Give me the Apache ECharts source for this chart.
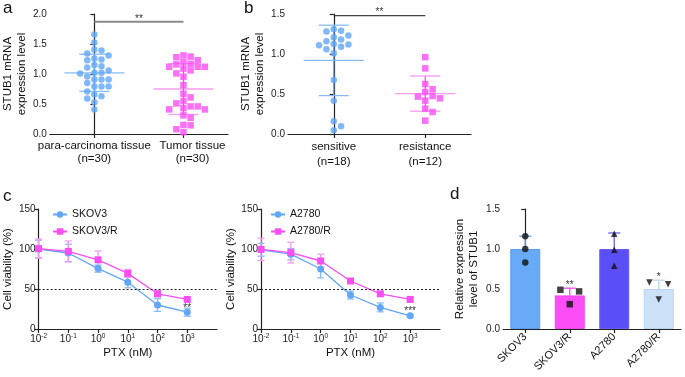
<!DOCTYPE html>
<html>
<head>
<meta charset="utf-8">
<script src="https://cdn.jsdelivr.net/npm/echarts@6.0.0/dist/echarts.min.js"></script>
<style>
  html, body { margin: 0; padding: 0; background: #fff; }
  #fig { width: 685px; height: 377px; }
</style>
</head>
<body>
<div id="fig"></div>
<script>
// ---- values ----
// a: STUB1 mRNA, para-carcinoma vs tumor tissue
const catsA = ['para-carcinoma tissue\n(n=30)', 'Tumor tissue\n(n=30)'];
const paraVals = [1.66, 1.525, 1.39, 1.41, 1.31, 1.34, 1.24, 1.23, 1.26, 1.13, 1.11, 1.15, 1.06,
  1.02, 1.01, 1.02, 0.96, 0.91, 0.91, 0.91, 0.85, 0.79, 0.79, 0.79, 0.71, 0.63, 0.66, 0.59, 0.53, 0.41];
const tumorVals = [1.31, 1.28, 1.29, 1.20, 1.16, 1.23, 1.17, 1.12, 1.09, 1.12, 1.06, 1.12, 1.01, 0.955,
  0.815, 0.67, 0.61, 0.55, 0.51, 0.46, 0.46, 0.43, 0.41, 0.41, 0.31, 0.27, 0.145, 0.15, 0.08, 0.03];
const meanA = [1.02, 0.75];
const sdA = [0.31, 0.425];

// b: sensitive vs resistance
const catsB = ['sensitive\n(n=18)', 'resistance\n(n=12)'];
const sensVals = [1.31, 1.29, 1.28, 1.23, 1.21, 1.16, 1.18, 1.12, 1.11, 1.125, 1.09, 1.06, 1.01,
  0.675, 0.417, 0.16, 0.096, 0.046];
const resVals = [0.96, 0.82, 0.625, 0.56, 0.525, 0.467, 0.417, 0.446, 0.475, 0.317, 0.275, 0.167];
const meanB = [0.92, 0.505];
const sdB = [0.44, 0.22];

// c: cell viability vs PTX dose
const doses = [0.01, 0.1, 1, 10, 100, 1000];
const skov3 = [100, 95, 75.5, 58.5, 30, 21];
const skov3Sd = [11, 11, 4.5, 7, 8, 5];
const skov3R = [100.5, 97, 86.5, 69.5, 44, 37];
const skov3RSd = [12, 13, 11, 5, 3.5, 1.5];
const a2780 = [99, 93.5, 75, 42.5, 27, 16.5];
const a2780Sd = [8, 7, 11, 5, 5.5, 1];
const a2780R = [99.5, 95.5, 85, 60, 44, 37];
const a2780RSd = [14, 13, 8.5, 2, 3, 3];

// d: relative STUB1 expression
const dCats = ['SKOV3', 'SKOV3/R', 'A2780', 'A2780/R'];
const dMeans = [1.0, 0.42, 1.0, 0.5];
const dSd = [0.16, 0.09, 0.2, 0.11];
const dPoints = [[1.16, 1.0, 0.83], [0.49, 0.47, 0.31], [1.19, 0.99, 0.79], [0.58, 0.56, 0.37]];
const dSig = ['', '**', '', '*'];

// ---- styling ----
const font = '"Liberation Sans", Arial, Helvetica, sans-serif';
const BLUE = '#62a6f7', PINK = '#f94ef3';
const BLUE_L = '#86bbf5', PINK_L = '#f59df1';
const dColors = ['#66aaf8', '#fb4cf5', '#5a4ef6', '#cbe1f8'];
const dEdge = ['#5b9ef0', '#f04ae8', '#6a5ff0', '#b9d5f2'];
const dSymbols = ['circle', 'rect', 'triangle', 'path://M0,0L10,0L5,9Z'];

const chart = echarts.init(document.getElementById('fig'), null, { renderer: 'canvas' });

// slot beeswarm like GraphPad: each point takes the free column nearest the centre
function swarm(vals, centre, step, pxPerUnit, minGap) {
  const placed = [];
  const order = [0, 1, -1, 2, -2, 3, -3, 4, -4, 5, -5, 6, -6];
  const sorted = vals.slice().sort((p, q) => q - p);
  return sorted.map(v => {
    for (const k of order) {
      const clash = placed.some(p => p.k === k && Math.abs(p.v - v) * pxPerUnit < minGap);
      if (!clash) {
        placed.push({ k, v });
        return [centre + k * step, v];
      }
    }
  });
}

// rows of close points spread evenly around the bar centre
function spreadRows(vals, centre, step, pxPerUnit, minGap) {
  const sorted = vals.slice().sort((p, q) => q - p);
  const rows = [];
  sorted.forEach(v => {
    const last = rows[rows.length - 1];
    if (last && Math.abs(last[last.length - 1] - v) * pxPerUnit < minGap) last.push(v);
    else rows.push([v]);
  });
  const out = [];
  rows.forEach(r => r.forEach((v, i) => out.push([centre + (i - (r.length - 1) / 2) * step, v])));
  return out;
}

const ln = (x1, y1, x2, y2, color, w) => ({
  type: 'line', shape: { x1, y1, x2, y2 }, style: { stroke: color, lineWidth: w || 1.3 }
});

function meanSdSeries(xAxisIndex, yAxisIndex, means, sds, barColors, meanColors) {
  return {
    type: 'custom', xAxisIndex, yAxisIndex, z: 1, silent: true,
    data: means.map((m, i) => [i, m, sds[i]]),
    renderItem(params, api) {
      const i = params.dataIndex;
      const x = api.value(0), m = api.value(1), s = api.value(2);
      const c = api.coord([x, m]), hi = api.coord([x, m + s]), lo = api.coord([x, m - s]);
      return {
        type: 'group', children: [
          ln(c[0] - 30, c[1], c[0] + 30, c[1], meanColors[i]),
          ln(hi[0], hi[1], lo[0], lo[1], barColors[i]),
          ln(hi[0] - 15, hi[1], hi[0] + 15, hi[1], meanColors[i]),
          ln(lo[0] - 15, lo[1], lo[0] + 15, lo[1], meanColors[i])
        ]
      };
    }
  };
}

function sigSeries(xAxisIndex, yAxisIndex, x0, x1, y, text, color, width) {
  return {
    type: 'custom', xAxisIndex, yAxisIndex, silent: true, clip: false,
    data: [[x0, x1, y]],
    renderItem(params, api) {
      const a = api.coord([api.value(0), api.value(2)]);
      const b = api.coord([api.value(1), api.value(2)]);
      return {
        type: 'group', children: [
          ln(a[0], a[1], b[0], b[1], color, width),
          { type: 'text', x: (a[0] + b[0]) / 2, y: a[1] + 2,
            style: { text, fill: '#333', font: '10px ' + font, align: 'center', verticalAlign: 'bottom' } }
        ]
      };
    }
  };
}

function errSeries(xAxisIndex, yAxisIndex, xs, ys, sds, color, capHalf, upOnly) {
  return {
    type: 'custom', xAxisIndex, yAxisIndex, silent: true, z: 1,
    data: xs.map((x, i) => [x, ys[i], sds[i]]),
    renderItem(params, api) {
      const col = Array.isArray(color) ? color[params.dataIndex] : color;
      const x = api.value(0), y = api.value(1), s = api.value(2);
      const hi = api.coord([x, y + s]);
      const lo = api.coord([x, upOnly ? y : y - s]);
      const kids = [ln(hi[0], hi[1], lo[0], lo[1], col), ln(hi[0] - capHalf, hi[1], hi[0] + capHalf, hi[1], col)];
      if (!upOnly) kids.push(ln(lo[0] - capHalf, lo[1], lo[0] + capHalf, lo[1], col));
      return { type: 'group', children: kids };
    }
  };
}

function textSeries(xAxisIndex, yAxisIndex, x, y, text) {
  return {
    type: 'custom', xAxisIndex, yAxisIndex, silent: true, clip: false, z: 5,
    data: [[x, y]],
    renderItem(params, api) {
      const p = api.coord([api.value(0), api.value(1)]);
      return { type: 'text', x: p[0], y: p[1],
        style: { text, fill: '#333', font: '10px ' + font, align: 'center', verticalAlign: 'middle' } };
    }
  };
}

const axisLine = { show: true, lineStyle: { color: '#222', width: 1.2 } };
const axisTick = { show: true, length: 4, lineStyle: { color: '#222', width: 1.2 } };
const tickFont = { fontFamily: font, fontSize: 10, color: '#222' };
const nameFont = { fontFamily: font, fontSize: 11.5, color: '#111', lineHeight: 14 };

function valueY(gridIndex, max, interval, digits, name, gap) {
  return {
    type: 'value', gridIndex, min: 0, max, interval,
    axisLine, axisTick, splitLine: { show: false },
    axisLabel: { ...tickFont, margin: 3, formatter: v => v.toFixed(digits) },
    name, nameLocation: 'middle', nameGap: gap, nameTextStyle: nameFont
  };
}

// visible category axis carrying the group labels
function catX(gridIndex, cats, lh, shiftLast) {
  return {
    type: 'category', gridIndex,
    data: cats.map((c, i) => (shiftLast && i === cats.length - 1)
      ? { value: c, textStyle: { padding: [0, 0, 0, shiftLast] } } : c),
    axisLine, axisTick: { ...axisTick, alignWithLabel: true },
    axisLabel: { fontFamily: font, fontSize: 11.5, color: '#111', lineHeight: lh, margin: 5, interval: 0 }
  };
}
// hidden value axis on the same grid so points can sit beside the group centre
const hiddenX = gridIndex => ({ type: 'value', gridIndex, min: -0.5, max: 1.5, show: false });

function logX(gridIndex) {
  return {
    type: 'log', gridIndex, logBase: 10, min: 0.01, max: 10000,
    axisLine, splitLine: { show: false }, minorTick: { show: false },
    axisTick: { ...axisTick, customValues: doses },
    axisLabel: {
      customValues: doses, margin: 4, showMinLabel: true,
      formatter: v => '{b|10}{s|' + Math.round(Math.log10(v)) + '}',
      rich: {
        b: { fontFamily: font, fontSize: 10, color: '#222', lineHeight: 12 },
        s: { fontFamily: font, fontSize: 6.5, color: '#222', verticalAlign: 'top', lineHeight: 8 }
      }
    },
    name: 'PTX (nM)', nameLocation: 'middle', nameGap: 17, nameTextStyle: nameFont
  };
}

const legendText = { fontFamily: font, fontSize: 10.5, color: '#111' };

const option = {
  animation: false,
  backgroundColor: '#fff',
  textStyle: { fontFamily: font },
  grid: [
    { left: 46, top: 14, width: 182, height: 120 },
    { left: 288, top: 14, width: 183, height: 120 },
    { left: 37, top: 209, width: 180, height: 120 },
    { left: 261, top: 209, width: 179, height: 120 },
    { left: 503, top: 209, width: 178, height: 120 }
  ],
  legend: [
    { data: ['SKOV3', 'SKOV3/R'], orient: 'vertical', left: 47, top: 204, itemWidth: 14, itemHeight: 8,
      itemGap: 6, textStyle: legendText },
    { data: ['A2780', 'A2780/R'], orient: 'vertical', left: 265, top: 204, itemWidth: 14, itemHeight: 8,
      itemGap: 6, textStyle: legendText }
  ],
  xAxis: [
    catX(0, catsA, 13, 18),      // 0
    hiddenX(0),                  // 1
    catX(1, catsB, 15, 0),       // 2
    hiddenX(1),                  // 3
    logX(2),                     // 4
    logX(3),                     // 5
    { type: 'category', gridIndex: 4, data: dCats, axisLine,   // 6
      axisTick: { ...axisTick, alignWithLabel: true },
      axisLabel: { fontFamily: font, fontSize: 11, color: '#111', rotate: 45, margin: 6, interval: 0 } },
    { type: 'value', gridIndex: 4, min: -0.5, max: 3.5, show: false }  // 7
  ],
  yAxis: [
    valueY(0, 2, 0.5, 1, 'STUB1 mRNA\nexpression level', 17),
    valueY(1, 1.5, 0.5, 1, 'STUB1 mRNA\nexpression level', 20),
    valueY(2, 150, 50, 0, 'Cell viability (%)', 21),
    valueY(3, 150, 50, 0, 'Cell viability (%)', 21),
    valueY(4, 1.5, 0.5, 1, 'Relative expression\nlevel of STUB1', 22)
  ],
  graphic: [
    { type: 'text', left: 3, top: 0, style: { text: 'a', font: '17px ' + font, fill: '#111' } },
    { type: 'text', left: 244, top: 0, style: { text: 'b', font: '17px ' + font, fill: '#111' } },
    { type: 'text', left: 3, top: 188, style: { text: 'c', font: '17px ' + font, fill: '#111' } },
    { type: 'text', left: 450, top: 186, style: { text: 'd', font: '17px ' + font, fill: '#111' } }
  ],
  series: [
    // a
    meanSdSeries(1, 0, meanA, sdA, [BLUE, PINK], [BLUE_L, PINK_L]),
    { type: 'scatter', xAxisIndex: 1, yAxisIndex: 0, symbol: 'circle', symbolSize: 6.5, z: 3,
      itemStyle: { color: BLUE }, data: swarm(paraVals, 0, 0.08, 60, 6.5) },
    { type: 'scatter', xAxisIndex: 1, yAxisIndex: 0, symbol: 'rect', symbolSize: 6.5, z: 3,
      itemStyle: { color: PINK }, data: swarm(tumorVals, 1, 0.08, 60, 6.5) },
    sigSeries(1, 0, 0, 1, 1.87, '**', '#8a8a8a', 2),
    // b
    meanSdSeries(3, 1, meanB, sdB, [BLUE, PINK], [BLUE_L, PINK_L]),
    { type: 'scatter', xAxisIndex: 3, yAxisIndex: 1, symbol: 'circle', symbolSize: 6.5, z: 3,
      itemStyle: { color: BLUE }, data: swarm(sensVals, 0, 0.08, 80, 6.5) },
    { type: 'scatter', xAxisIndex: 3, yAxisIndex: 1, symbol: 'rect', symbolSize: 6.5, z: 3,
      itemStyle: { color: PINK }, data: swarm(resVals, 1, 0.08, 80, 6.5) },
    sigSeries(3, 1, 0, 1, 1.48, '**', '#444', 1.2),
    // c left
    errSeries(4, 2, doses, skov3, skov3Sd, BLUE_L, 3.5),
    errSeries(4, 2, doses, skov3R, skov3RSd, PINK_L, 3.5),
    { name: 'SKOV3', type: 'line', xAxisIndex: 4, yAxisIndex: 2, symbol: 'circle', symbolSize: 7, z: 3,
      itemStyle: { color: BLUE }, lineStyle: { color: BLUE, width: 1.3 },
      data: doses.map((d, i) => [d, skov3[i]]),
      markLine: { silent: true, symbol: ['none', 'none'], label: { show: false },
        lineStyle: { color: '#222', type: [2, 2], width: 1 }, data: [{ yAxis: 50 }] } },
    { name: 'SKOV3/R', type: 'line', xAxisIndex: 4, yAxisIndex: 2, symbol: 'rect', symbolSize: 7, z: 3,
      itemStyle: { color: PINK }, lineStyle: { color: PINK, width: 1.3 },
      data: doses.map((d, i) => [d, skov3R[i]]) },
    textSeries(4, 2, 1000, 26.5, '**'),
    // c right
    errSeries(5, 3, doses, a2780, a2780Sd, BLUE_L, 3.5),
    errSeries(5, 3, doses, a2780R, a2780RSd, PINK_L, 3.5),
    { name: 'A2780', type: 'line', xAxisIndex: 5, yAxisIndex: 3, symbol: 'circle', symbolSize: 7, z: 3,
      itemStyle: { color: BLUE }, lineStyle: { color: BLUE, width: 1.3 },
      data: doses.map((d, i) => [d, a2780[i]]),
      markLine: { silent: true, symbol: ['none', 'none'], label: { show: false },
        lineStyle: { color: '#222', type: [2, 2], width: 1 }, data: [{ yAxis: 50 }] } },
    { name: 'A2780/R', type: 'line', xAxisIndex: 5, yAxisIndex: 3, symbol: 'rect', symbolSize: 7, z: 3,
      itemStyle: { color: PINK }, lineStyle: { color: PINK, width: 1.3 },
      data: doses.map((d, i) => [d, a2780R[i]]) },
    textSeries(5, 3, 1000, 22.5, '***'),
    // d
    { type: 'bar', xAxisIndex: 6, yAxisIndex: 4, barWidth: 30, z: 2,
      data: dMeans.map((v, i) => ({ value: v, itemStyle: { color: dColors[i], borderColor: dEdge[i], borderWidth: 1 } })) },
    errSeries(7, 4, [0, 1, 2, 3], dMeans, dSd, dEdge, 6, true),
    ...dPoints.map((pts, i) => ({
      type: 'scatter', xAxisIndex: 7, yAxisIndex: 4, symbol: dSymbols[i], symbolSize: 6.5, z: 4,
      itemStyle: { color: '#111' }, data: spreadRows(pts, i, 0.42, 80, 7)
    })),
    ...dSig.map((s, i) => s ? textSeries(7, 4, i, dMeans[i] + dSd[i] + 0.04, s) : null).filter(Boolean)
  ]
};

chart.setOption(option);
</script>
</body>
</html>
